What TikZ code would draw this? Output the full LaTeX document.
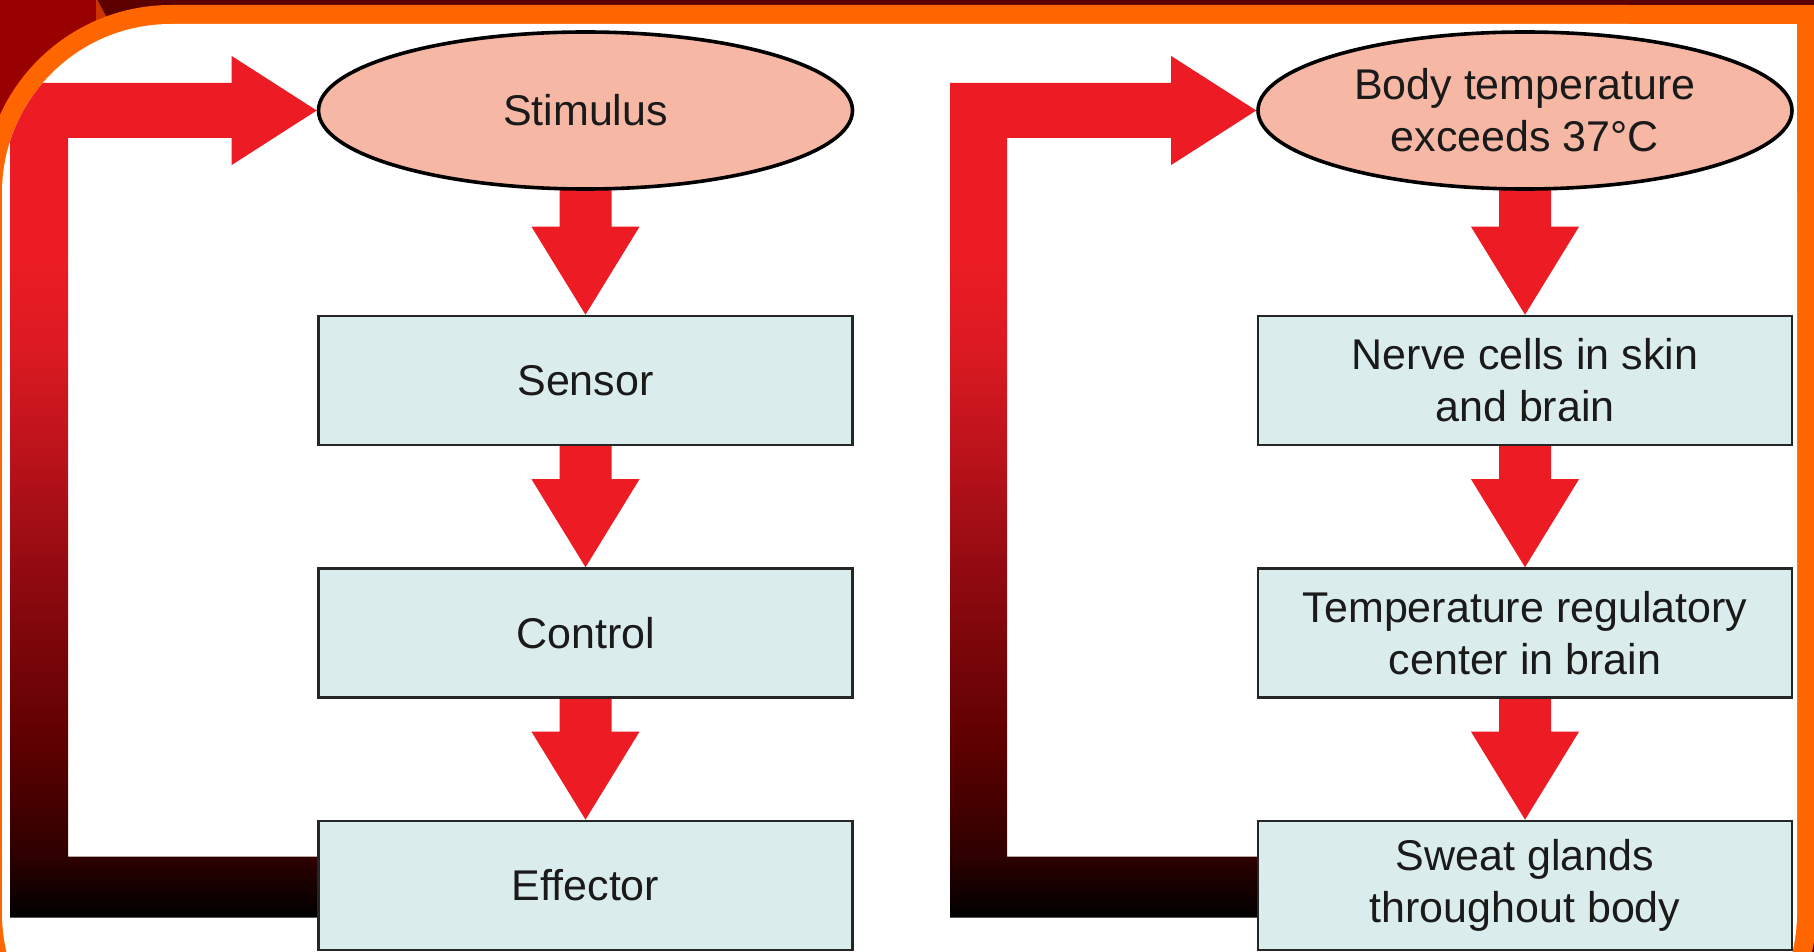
\documentclass[tikz,border=0pt]{standalone}
\usepackage{fontspec}
\setmainfont{Liberation Sans}
\usetikzlibrary{shapes.geometric,calc,backgrounds}
\definecolor{arrowred}{HTML}{ED1C24}
\definecolor{fbA}{HTML}{2E0000}
\definecolor{fbB}{HTML}{5C0000}
\definecolor{fbC}{HTML}{8F0A10}
\definecolor{fbD}{HTML}{B8121A}
\definecolor{fbE}{HTML}{DC1A22}
\definecolor{ellfill}{HTML}{F6B8A5}
\definecolor{boxfill}{HTML}{DAEDEC}
\definecolor{frameorange}{HTML}{FF6600}
\definecolor{darkband}{HTML}{5C0000}
\definecolor{cornerred}{HTML}{990000}
\definecolor{sliver}{HTML}{CC3300}
\definecolor{textcol}{HTML}{1A1A1A}
\pgfdeclareverticalshading{fbshade}{100bp}{color(0bp)=(black); color(25bp)=(black); color(28.54bp)=(fbA); color(34.74bp)=(fbB); color(44.72bp)=(fbC); color(51.39bp)=(fbD); color(58.12bp)=(fbE); color(63.75bp)=(arrowred); color(100bp)=(arrowred)}
\newcommand\fatdown[2]{%
  \fill[arrowred] ($(#1.south)+(-26,-14)$) -- ($(#1.south)+(26,-14)$)
    -- ($(#2.north)+(26,-88)$) -- ($(#2.north)+(54,-88)$) -- (#2.north)
    -- ($(#2.north)+(-54,-88)$) -- ($(#2.north)+(-26,-88)$) -- cycle;}
\newcommand\feedback[4]{% #1 bottom node, #2 top node, #3 outer x, #4 inner x
  \coordinate (e1) at ($(#1.west)+(0,32)$);
  \coordinate (e2) at ($(#1.west)+(0,-29)$);
  \coordinate (s1) at ($(#2.west)+(-85,27.5)$);
  \coordinate (s2) at ($(#2.west)+(-85,54.5)$);
  \coordinate (s3) at ($(#2.west)+(-85,-54.5)$);
  \coordinate (s4) at ($(#2.west)+(-85,-27.5)$);
  \coordinate (xo) at (#3,0);
  \coordinate (xi) at (#4,0);
  \shade[shading=fbshade] ($(e1)+(6,0)$) -- ($(e2)+(6,0)$) -- (xi |- e2) -- (xi |- s1) -- (s1) -- (s2)
    -- (#2.west) -- (s3) -- (s4) -- (xo |- s4) -- (xo |- e1) -- cycle;}
\begin{document}
\begin{tikzpicture}[x=0.5pt,y=-0.5pt,
  txt/.style={font=\fontsize{21.5pt}{26pt}\selectfont, text=textcol, align=center},
  ellnode/.style={ellipse, draw=black, line width=1.8pt, fill=ellfill,
    minimum width=267pt, minimum height=78.5pt, inner sep=0pt, txt},
  boxnode/.style={rectangle, draw=black!85, line width=1.3pt, fill=boxfill,
    minimum width=267pt, minimum height=64.5pt, inner sep=0pt, txt}]
\useasboundingbox (0,0) rectangle (1814,952);
\begin{scope}[on background layer]
  \clip (0,0) rectangle (1814,952);
  \fill[darkband] (0,0) rectangle (1814,952);
  \fill[cornerred] (0,0) rectangle (96,300);
  \fill[sliver] (96,0) -- (97.5,0) -- (107,18) -- (96,22) -- cycle;
  \fill[frameorange, rounded corners=94pt] (-17,5) rectangle (1816,1101);
  \fill[frameorange] (1400,5) rectangle (1816,500);
  \fill[white, rounded corners=84.5pt] (2,24) rectangle (1797,1082);
  \fill[white] (1400,24) rectangle (1797,500);
\end{scope}
% left column
\node[ellnode] (stim) at (585.5,110.5) {Stimulus};
\node[boxnode] (sens) at (585.5,380.5) {Sensor};
\node[boxnode] (ctrl) at (585.5,633) {Control};
\node[boxnode] (eff)  at (585.5,885.5) {Effector};
% right column
\node[ellnode] (bt)    at (1525,110.5) {Body temperature\\exceeds 37°C};
\node[boxnode] (nerve) at (1525,380.5) {Nerve cells in skin\\and brain};
\node[boxnode] (trc)   at (1525,633) {Temperature regulatory\\center in brain};
\node[boxnode] (sweat) at (1525,885.5) {Sweat glands\\throughout body};
\begin{scope}[on background layer]
  \fatdown{stim}{sens}
  \fatdown{sens}{ctrl}
  \fatdown{ctrl}{eff}
  \fatdown{bt}{nerve}
  \fatdown{nerve}{trc}
  \fatdown{trc}{sweat}
  \begin{scope}
    \clip[rounded corners=84.5pt] (2,24) rectangle (1797,1082);
    \feedback{eff}{stim}{10}{68}
  \end{scope}
  \feedback{sweat}{bt}{950}{1007}
\end{scope}
\end{tikzpicture}
\end{document}
